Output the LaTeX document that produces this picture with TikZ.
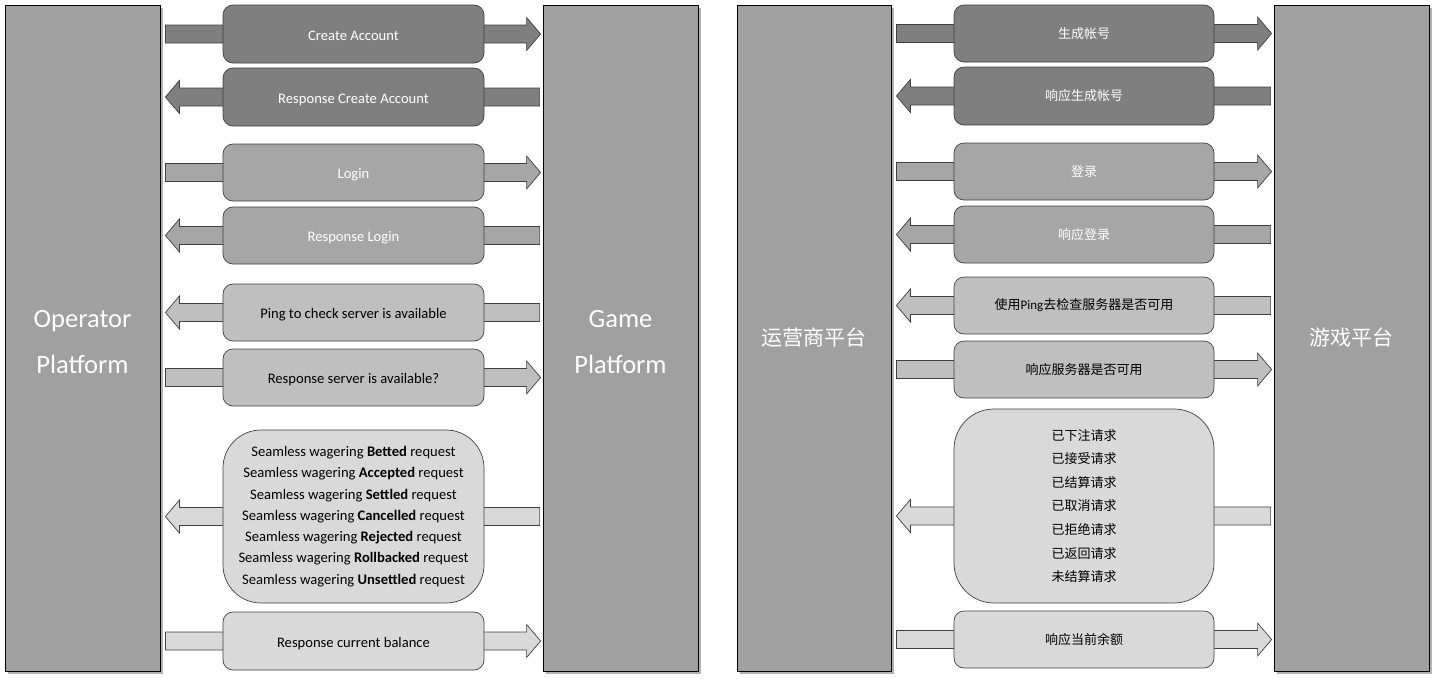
\documentclass[tikz,border=0pt]{standalone}
\usepackage{fontspec}
\setmainfont{Carlito}
\newfontfamily\cjk{Noto Sans CJK SC}
\usetikzlibrary{calc,shadows,backgrounds}
\definecolor{pillarc}{HTML}{A0A0A0}
\definecolor{cdark}{HTML}{7F7F7F}
\definecolor{cmid}{HTML}{A6A6A6}
\definecolor{clight}{HTML}{BFBFBF}
\definecolor{cpale}{HTML}{D9D9D9}
\definecolor{edgec}{HTML}{404040}
\newcommand{\arrR}[4]{%
  \path (#1 -| #2.east) coordinate (p1) (#1 -| #3.west) coordinate (p2);
  \draw[arr, fill=#4] ([shift={(5,-9)}]p1) -- ([shift={(-16,-9)}]p2) -- ([shift={(-16,-16.5)}]p2)
    -- ([shift={(-2,0)}]p2) -- ([shift={(-16,16.5)}]p2) -- ([shift={(-16,9)}]p2)
    -- ([shift={(5,9)}]p1) -- cycle;}
\newcommand{\arrL}[4]{%
  \path (#1 -| #2.east) coordinate (p1) (#1 -| #3.west) coordinate (p2);
  \draw[arr, fill=#4] ([shift={(5,0)}]p1) -- ([shift={(19,-16.5)}]p1) -- ([shift={(19,-9)}]p1)
    -- ([shift={(-3,-9)}]p2) -- ([shift={(-3,9)}]p2) -- ([shift={(19,9)}]p1)
    -- ([shift={(19,16.5)}]p1) -- cycle;}
\begin{document}
\begin{tikzpicture}[x=1pt,y=-1pt,
  pillar/.style={draw=black, fill=pillarc, line width=0.8pt, inner sep=0pt,
    minimum height=666pt, text=white, align=center,
    drop shadow={shadow xshift=3pt, shadow yshift=-3pt, fill=black!30, opacity=1}},
  box/.style={draw=edgec, line width=0.7pt, rounded corners=10pt, inner sep=0pt,
    align=center, font=\fontsize{14.6}{17}\selectfont},
  one/.style={text height=13pt, text depth=1pt},
  arr/.style={draw=edgec, line width=0.7pt},
  ptext/.style={font=\fontsize{26.5}{46}\selectfont},
  ctext/.style={font=\cjk\fontsize{13}{16}\selectfont}]
\useasboundingbox (0,0) rectangle (1435,678);
% pillars
\node[pillar, ptext, minimum width=155pt] (op) at (82.5,338) {\rule{0pt}{26pt}Operator\\Platform};
\node[pillar, ptext, minimum width=155pt] (gp) at (620.5,338) {\rule{0pt}{26pt}Game\\Platform};
\node[pillar, font=\cjk\fontsize{21}{24}\selectfont, minimum width=154pt] (opc) at (814,338) {运营商平台};
\node[pillar, font=\cjk\fontsize{21}{24}\selectfont, minimum width=155pt] (gpc) at (1351.5,338) {游戏平台};
% left boxes
\node[box, one, fill=cdark, text=white, minimum width=261pt, minimum height=58pt] (b1) at (353.5,34) {Create Account};
\node[box, one, fill=cdark, text=white, minimum width=261pt, minimum height=58pt] (b2) at (353.5,97) {Response Create Account};
\node[box, one, fill=cmid, text=white, minimum width=261pt, minimum height=57pt] (b3) at (353.5,172.5) {Login};
\node[box, one, fill=cmid, text=white, minimum width=261pt, minimum height=57pt] (b4) at (353.5,235.5) {Response Login};
\node[box, one, fill=clight, minimum width=261pt, minimum height=57pt] (b5) at (353.5,312.5) {Ping to check server is available};
\node[box, one, fill=clight, minimum width=261pt, minimum height=57pt] (b6) at (353.5,377.5) {Response server is available?};
\node[box, fill=cpale, rounded corners=38pt, minimum width=261pt, minimum height=173pt,
  font=\fontsize{14.6}{21.3}\selectfont] (b7) at (353.5,516.5) {Seamless wagering \textbf{Betted} request\\
  Seamless wagering \textbf{Accepted} request\\
  Seamless wagering \textbf{Settled} request\\
  Seamless wagering \textbf{Cancelled} request\\
  Seamless wagering \textbf{Rejected} request\\
  Seamless wagering \textbf{Rollbacked} request\\
  Seamless wagering \textbf{Unsettled} request};
\node[box, one, fill=cpale, minimum width=261pt, minimum height=58pt] (b8) at (353.5,641) {Response current balance};
% right boxes
\node[box, ctext, fill=cdark, text=white, minimum width=260pt, minimum height=57pt] (c1) at (1084,33.5) {生成帐号};
\node[box, ctext, fill=cdark, text=white, minimum width=260pt, minimum height=58pt] (c2) at (1084,96) {响应生成帐号};
\node[box, ctext, fill=cmid, text=white, minimum width=260pt, minimum height=57pt] (c3) at (1084,171.5) {登录};
\node[box, ctext, fill=cmid, text=white, minimum width=260pt, minimum height=57pt] (c4) at (1084,234.5) {响应登录};
\node[box, ctext, fill=clight, minimum width=260pt, minimum height=57pt] (c5) at (1084,305.5) {使用{\fontspec{Carlito}Ping}去检查服务器是否可用};
\node[box, ctext, fill=clight, minimum width=260pt, minimum height=57pt] (c6) at (1084,369.5) {响应服务器是否可用};
\node[box, fill=cpale, rounded corners=40pt, minimum width=260pt, minimum height=194pt,
  font=\cjk\fontsize{13}{23.6}\selectfont] (c7) at (1084,506) {已下注请求\\已接受请求\\已结算请求\\已取消请求\\已拒绝请求\\已返回请求\\未结算请求};
\node[box, ctext, fill=cpale, minimum width=260pt, minimum height=57pt] (c8) at (1084,639.5) {响应当前余额};
\coordinate (c7a) at ($(c7.center)+(0,10)$);
% arrows
\begin{scope}[on background layer]
\arrR{b1}{op}{gp}{cdark}
\arrL{b2}{op}{gp}{cdark}
\arrR{b3}{op}{gp}{cmid}
\arrL{b4}{op}{gp}{cmid}
\arrL{b5}{op}{gp}{clight}
\arrR{b6}{op}{gp}{clight}
\arrL{b7}{op}{gp}{cpale}
\arrR{b8}{op}{gp}{cpale}
\arrR{c1}{opc}{gpc}{cdark}
\arrL{c2}{opc}{gpc}{cdark}
\arrR{c3}{opc}{gpc}{cmid}
\arrL{c4}{opc}{gpc}{cmid}
\arrL{c5}{opc}{gpc}{clight}
\arrR{c6}{opc}{gpc}{clight}
\arrL{c7a}{opc}{gpc}{cpale}
\arrR{c8}{opc}{gpc}{cpale}
\end{scope}
\end{tikzpicture}
\end{document}
